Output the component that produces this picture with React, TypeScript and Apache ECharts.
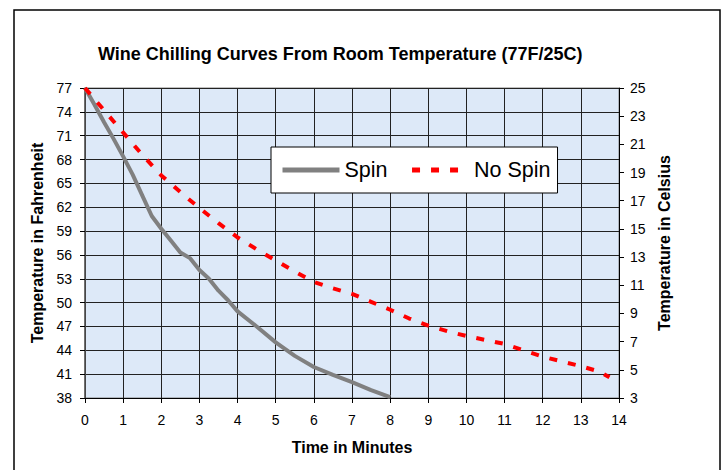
import React, { useEffect, useRef } from "react";
import * as echarts from "echarts";

const TITLE = "Wine Chilling Curves From Room Temperature (77F/25C)";
const SERIES_NAMES = ["Spin", "No Spin"];

const spinTime = [0, 0.25, 0.5, 0.75, 1, 1.25, 1.5, 1.75, 2, 2.25, 2.5, 2.75, 3, 3.25, 3.5, 3.75, 4, 4.5, 5, 5.5, 6, 6.5, 7, 7.5, 8];
const spinF = [77, 74.9, 72.7, 70.6, 68.4, 66.1, 63.5, 60.9, 59.3, 57.8, 56.3, 55.6, 54.1, 53.0, 51.5, 50.3, 48.9, 47.0, 45.0, 43.3, 41.9, 40.9, 40.0, 39.0, 38.1];

const noSpinTime = [0, 0.5, 1, 1.5, 2, 2.5, 3, 3.5, 4, 4.5, 5, 5.5, 6, 6.5, 7, 7.5, 8, 8.5, 9, 9.5, 10, 10.5, 11, 11.5, 12, 12.5, 13, 13.5, 13.75];
const noSpinF = [77, 74.2, 71.4, 68.6, 66.0, 63.9, 61.9, 60.0, 58.2, 56.7, 55.3, 53.9, 52.6, 51.8, 51.1, 50.1, 49.1, 48.0, 47.1, 46.4, 45.8, 45.3, 44.8, 44.0, 43.2, 42.6, 42.0, 41.3, 40.6];

const fahrenheitTicks = [38, 41, 44, 47, 50, 53, 56, 59, 62, 65, 68, 71, 74, 77];
const celsiusTicks = [3, 5, 7, 9, 11, 13, 15, 17, 19, 21, 23, 25];

const FONT = "'Liberation Sans', Arial, sans-serif";

export default function App() {
  const ref = useRef<HTMLDivElement>(null);

  useEffect(() => {
    if (!ref.current) return;
    const chart = echarts.init(ref.current, null, { renderer: "svg" });
    chart.setOption({
      animation: false,
      backgroundColor: "#ffffff",
      textStyle: { fontFamily: FONT },
      title: {
        text: TITLE,
        left: 98,
        top: 45,
        padding: 0,
        textStyle: { fontFamily: FONT, fontSize: 18, fontWeight: "bold", color: "#000" },
      },
      graphic: [
        {
          type: "rect",
          shape: { x: 14, y: 10, width: 706, height: 480 },
          style: { fill: "none", stroke: "#000", lineWidth: 1.5 },
          silent: true,
          z: 100,
        },
      ],
      legend: {
        data: SERIES_NAMES,
        left: 271,
        top: 147,
        orient: "horizontal",
        backgroundColor: "#ffffff",
        borderColor: "#000",
        borderWidth: 1,
        padding: [12, 7, 12, 9],
        itemWidth: 57,
        itemHeight: 22,
        itemGap: 22,
        itemStyle: { opacity: 0 },
        lineStyle: { width: 5 },
        textStyle: { fontFamily: FONT, fontSize: 21.5, color: "#000" },
      },
      grid: {
        left: 85,
        right: 103,
        top: 88,
        bottom: 72,
        show: true,
        backgroundColor: "#dde9f8",
        borderColor: "#808080",
        borderWidth: 1,
      },
      xAxis: {
        type: "value",
        min: 0,
        max: 14,
        interval: 1,
        name: "Time in Minutes",
        nameLocation: "middle",
        nameGap: 41,
        nameTextStyle: { fontFamily: FONT, fontSize: 16, fontWeight: "bold", color: "#000" },
        axisLine: { show: true, onZero: false, lineStyle: { color: "#000", width: 1 } },
        axisTick: { show: true, length: 5, lineStyle: { color: "#000" } },
        axisLabel: { fontFamily: FONT, fontSize: 14, color: "#000", margin: 15 },
        splitLine: { show: true, lineStyle: { color: "#222", width: 1 } },
      },
      yAxis: [
        {
          type: "value",
          min: 38,
          max: 77,
          position: "left",
          name: "Temperature in Fahrenheit",
          nameLocation: "middle",
          nameGap: 38,
          nameTextStyle: { fontFamily: FONT, fontSize: 16, fontWeight: "bold", color: "#000" },
          axisLine: { show: true, onZero: false, lineStyle: { color: "#555", width: 1.5 } },
          axisTick: { show: true, length: 5, customValues: fahrenheitTicks, lineStyle: { color: "#000" } },
          axisLabel: { fontFamily: FONT, fontSize: 14, color: "#000", margin: 13, customValues: fahrenheitTicks },
          splitLine: { show: true, lineStyle: { color: "#222", width: 1 } },
        },
        {
          type: "value",
          min: 3,
          max: 25,
          position: "right",
          name: "Temperature in Celsius",
          nameLocation: "middle",
          nameGap: 36,
          nameTextStyle: { fontFamily: FONT, fontSize: 16, fontWeight: "bold", color: "#000" },
          axisLine: { show: true, onZero: false, lineStyle: { color: "#000", width: 1 } },
          axisTick: { show: true, length: 5, customValues: celsiusTicks, lineStyle: { color: "#000" } },
          axisLabel: { fontFamily: FONT, fontSize: 14, color: "#000", margin: 11, customValues: celsiusTicks },
          splitLine: { show: false },
        },
      ],
      series: [
        {
          name: SERIES_NAMES[0],
          type: "line",
          yAxisIndex: 0,
          showSymbol: false,
          symbol: "none",
          data: spinTime.map((t, i) => [t, spinF[i]]),
          lineStyle: { color: "#808080", width: 4 },
          itemStyle: { color: "#808080" },
          z: 3,
        },
        {
          name: SERIES_NAMES[1],
          type: "line",
          yAxisIndex: 0,
          showSymbol: false,
          symbol: "none",
          data: noSpinTime.map((t, i) => [t, noSpinF[i]]),
          lineStyle: { color: "#ff0000", width: 4, type: [8, 11] },
          itemStyle: { color: "#ff0000" },
          z: 4,
        },
      ],
    });
    return () => chart.dispose();
  }, []);

  return (
    <div
      ref={ref}
      style={{ position: "absolute", left: 0, top: 0, width: 722, height: 470 }}
    />
  );
}
